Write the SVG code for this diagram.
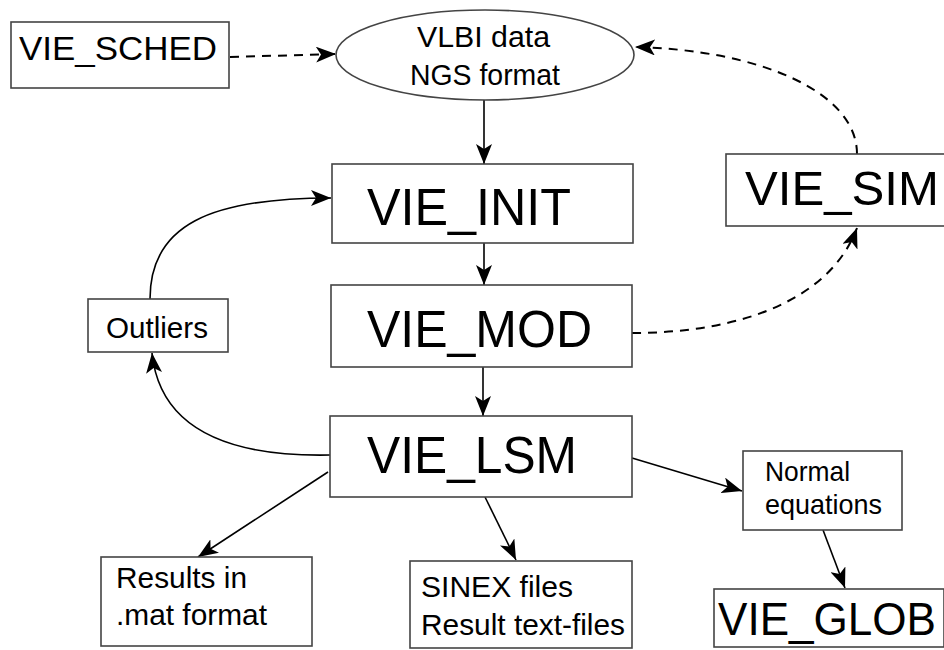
<svg xmlns="http://www.w3.org/2000/svg" width="944" height="650" viewBox="0 0 944 650">
<style>
.box{fill:#fff;stroke:#444;stroke-width:1.6}
.t{font-family:"Liberation Sans",Arial,sans-serif;fill:#000}
.c{fill:none;stroke:#000;stroke-width:1.6}
.d{fill:none;stroke:#000;stroke-width:2;stroke-dasharray:9,7}
</style>
<defs>
<marker id="ah" markerUnits="userSpaceOnUse" markerWidth="21" markerHeight="16" refX="20" refY="8" orient="auto">
<path d="M0,0 L20,8 L0,16 L5,8 z" fill="#000"/>
</marker>
</defs>
<rect width="944" height="650" fill="#fff"/>
<g id="connectors">
<path class="d" d="M230,57 L336,54" marker-end="url(#ah)"/>
<path class="d" d="M857,154 C857,92 760,50 635,47" marker-end="url(#ah)"/>
<path class="d" d="M632,333 C740,333 830,300 857,228" marker-end="url(#ah)"/>
<path class="c" d="M484,100 L484,164" marker-end="url(#ah)"/>
<path class="c" d="M484,243 L484,285" marker-end="url(#ah)"/>
<path class="c" d="M483,367 L483,416" marker-end="url(#ah)"/>
<path class="c" d="M150,299 C150,225 210,198 331,198" marker-end="url(#ah)"/>
<path class="c" d="M330,455 C230,457 160,430 152,353" marker-end="url(#ah)"/>
<path class="c" d="M328,472 L198,557" marker-end="url(#ah)"/>
<path class="c" d="M485,497 L516,560" marker-end="url(#ah)"/>
<path class="c" d="M632,458 L742,491" marker-end="url(#ah)"/>
<path class="c" d="M823,530 L845,588" marker-end="url(#ah)"/>
</g>
<g id="vie_sched">
<rect class="box" x="11" y="22" width="218" height="66"/>
<text class="t" x="19" y="60" font-size="34" textLength="198" lengthAdjust="spacingAndGlyphs">VIE_SCHED</text>
</g>
<g id="vlbi_data">
<ellipse class="box" cx="485" cy="55" rx="149" ry="45"/>
<text class="t" x="417" y="47" font-size="30" textLength="133" lengthAdjust="spacingAndGlyphs">VLBI data</text>
<text class="t" x="410" y="85" font-size="30" textLength="150" lengthAdjust="spacingAndGlyphs">NGS format</text>
</g>
<g id="vie_init">
<rect class="box" x="332" y="164" width="301" height="79"/>
<text class="t" x="367" y="225" font-size="51" textLength="204" lengthAdjust="spacingAndGlyphs">VIE_INIT</text>
</g>
<g id="vie_mod">
<rect class="box" x="331" y="285" width="301" height="82"/>
<text class="t" x="367" y="347" font-size="51" textLength="225" lengthAdjust="spacingAndGlyphs">VIE_MOD</text>
</g>
<g id="vie_lsm">
<rect class="box" x="330" y="416" width="302" height="81"/>
<text class="t" x="367" y="473" font-size="51" textLength="210" lengthAdjust="spacingAndGlyphs">VIE_LSM</text>
</g>
<g id="vie_sim">
<rect class="box" x="726" y="154" width="219" height="72"/>
<text class="t" x="745" y="205" font-size="49" textLength="194" lengthAdjust="spacingAndGlyphs">VIE_SIM</text>
</g>
<g id="outliers">
<rect class="box" x="88" y="299" width="140" height="53"/>
<text class="t" x="106" y="338" font-size="30" textLength="102" lengthAdjust="spacingAndGlyphs">Outliers</text>
</g>
<g id="results">
<rect class="box" x="101" y="557" width="211" height="89"/>
<text class="t" x="116" y="588" font-size="30" textLength="131" lengthAdjust="spacingAndGlyphs">Results in</text>
<text class="t" x="116" y="625" font-size="30" textLength="151" lengthAdjust="spacingAndGlyphs">.mat format</text>
</g>
<g id="sinex">
<rect class="box" x="410" y="561" width="222" height="87"/>
<text class="t" x="421" y="597" font-size="30" textLength="152" lengthAdjust="spacingAndGlyphs">SINEX files</text>
<text class="t" x="421" y="635" font-size="30" textLength="204" lengthAdjust="spacingAndGlyphs">Result text-files</text>
</g>
<g id="normal_equations">
<rect class="box" x="743" y="451" width="159" height="79"/>
<text class="t" x="765" y="481" font-size="28" textLength="85" lengthAdjust="spacingAndGlyphs">Normal</text>
<text class="t" x="765" y="514" font-size="28" textLength="117" lengthAdjust="spacingAndGlyphs">equations</text>
</g>
<g id="vie_glob">
<rect class="box" x="714" y="589" width="230" height="58"/>
<text class="t" x="718" y="635" font-size="47" textLength="218" lengthAdjust="spacingAndGlyphs">VIE_GLOB</text>
</g>
</svg>
